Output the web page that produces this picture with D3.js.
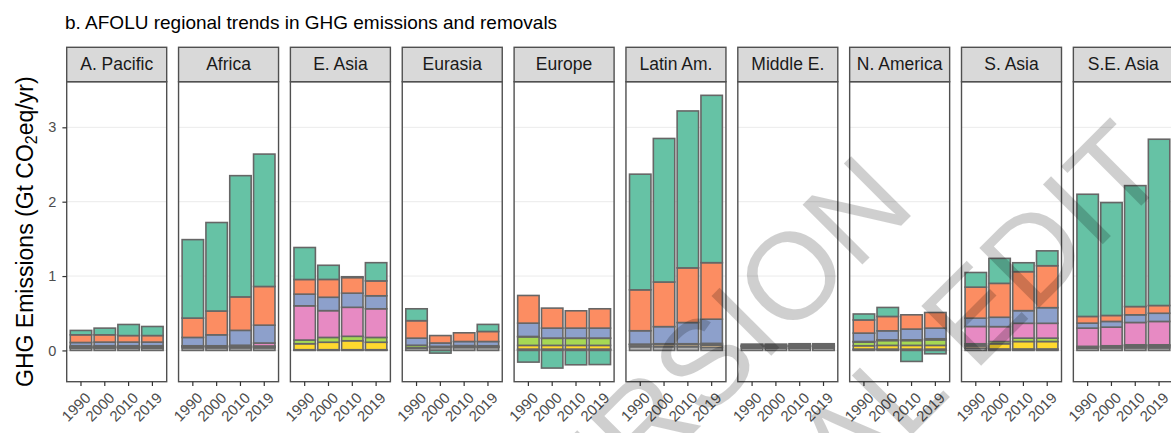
<!DOCTYPE html>
<html>
<head>
<meta charset="utf-8">
<script src="https://cdn.jsdelivr.net/npm/d3@7"></script>
<style>
  body { margin: 0; background: #fff; }
  svg { display: block; }
  text { font-family: "Liberation Sans", Arial, Helvetica, sans-serif; }
</style>
</head>
<body>
<svg id="chart" width="1171" height="433"></svg>
<script>
// Regions (facets) and years (bars within each facet)
const regions = ["A. Pacific", "Africa", "E. Asia", "Eurasia", "Europe",
                 "Latin Am.", "Middle E.", "N. America", "S. Asia", "S.E. Asia"];
const years = ["1990", "2000", "2010", "2019"];
const yTickValues = [0, 1, 2, 3];

// Emissions by source, Gt CO2eq/yr; one row per region, one value per year
const other = [
  [0.03, 0.03, 0.03, 0.03], [0.035, 0.035, 0.035, 0.035], [0.005, 0.005, 0.005, 0.005],
  [0.03, 0.04, 0.04, 0.04], [0.01, 0.01, 0.01, 0.01], [0.05, 0.05, 0.05, 0.04],
  [0.03, 0.03, 0.03, 0.03], [0.01, 0.01, 0.01, 0.01], [0.03, 0.01, 0.01, 0.01],
  [0.03, 0.035, 0.035, 0.035]];
const burning = [
  [0.01, 0.01, 0.01, 0.01], [0.015, 0.015, 0.01, 0.01], [0.005, 0.005, 0.005, 0.005],
  [0.005, 0.005, 0.01, 0.005], [0.008, 0.008, 0.008, 0.008], [0.025, 0.03, 0.03, 0.03],
  [0.02, 0.02, 0.02, 0.02], [0.008, 0.008, 0.008, 0.008], [0.03, 0.01, 0.01, 0.01],
  [0.015, 0.015, 0.02, 0.02]];
const manure = [
  [0.005, 0.005, 0.005, 0.005], [0.005, 0.005, 0.005, 0.008], [0.08, 0.10, 0.12, 0.10],
  [0.005, 0.005, 0.005, 0.005], [0.05, 0.05, 0.05, 0.05], [0.005, 0.005, 0.005, 0.01],
  [0.005, 0.005, 0.005, 0.005], [0.045, 0.05, 0.05, 0.05], [0.01, 0.07, 0.10, 0.10],
  [0.005, 0.008, 0.01, 0.01]];
const fertiliser = [
  [0.003, 0.003, 0.003, 0.003], [0.003, 0.003, 0.005, 0.007], [0.05, 0.065, 0.06, 0.065],
  [0.03, 0.005, 0.01, 0.013], [0.115, 0.095, 0.095, 0.095], [0.005, 0.005, 0.005, 0.015],
  [0.005, 0.005, 0.005, 0.005], [0.05, 0.065, 0.065, 0.075], [0.02, 0.03, 0.045, 0.045],
  [0.005, 0.005, 0.011, 0.011]];
const rice = [
  [0.015, 0.015, 0.015, 0.015], [0.005, 0.005, 0.015, 0.04], [0.46, 0.36, 0.39, 0.385],
  [0, 0, 0, 0], [0.005, 0.003, 0.003, 0.003], [0, 0, 0, 0],
  [0, 0, 0, 0], [0.007, 0.01, 0.01, 0.014], [0.232, 0.20, 0.20, 0.20],
  [0.245, 0.25, 0.30, 0.314]];
const soils = [
  [0.044, 0.049, 0.049, 0.049], [0.112, 0.147, 0.20, 0.24], [0.157, 0.18, 0.19, 0.175],
  [0.095, 0.045, 0.055, 0.057], [0.179, 0.134, 0.134, 0.134], [0.18, 0.23, 0.285, 0.325],
  [0.01, 0.01, 0.01, 0.01], [0.113, 0.121, 0.144, 0.143], [0.112, 0.126, 0.17, 0.21],
  [0.067, 0.077, 0.103, 0.11]];
const enteric = [
  [0.103, 0.098, 0.088, 0.088], [0.26, 0.32, 0.45, 0.52], [0.197, 0.24, 0.21, 0.20],
  [0.235, 0.10, 0.117, 0.135], [0.372, 0.269, 0.233, 0.26], [0.55, 0.60, 0.735, 0.76],
  [0.015, 0.015, 0.02, 0.02], [0.177, 0.193, 0.192, 0.21], [0.417, 0.456, 0.524, 0.564],
  [0.09, 0.08, 0.111, 0.104]];
const lulucf = [
  [0.059, 0.09, 0.149, 0.122], [1.055, 1.19, 1.63, 1.78], [0.43, 0.19, 0.01, 0.245],
  [0.16, -0.036, 0, 0.095], [-0.157, -0.237, -0.193, -0.19], [1.555, 1.93, 2.11, 2.25],
  [0, 0, 0, 0], [0.08, 0.121, -0.148, -0.045], [0.197, 0.336, 0.12, 0.20],
  [1.643, 1.518, 1.626, 2.236]];

// Stacking order, bottom to top
const sources = { other, burning, manure, fertiliser, rice, soils, enteric, lulucf };
const keys = Object.keys(sources);
const color = d3.scaleOrdinal()
  .domain(keys)
  .range(["#b3b3b3", "#e5c494", "#ffd92f", "#a6d854", "#e78ac3", "#8da0cb", "#fc8d62", "#66c2a5"]);

// Flatten into one row per region-year for d3.stack
const rows = [];
regions.forEach((region, ri) => {
  years.forEach((year, yi) => {
    const row = { region, year };
    keys.forEach(k => { row[k] = sources[k][ri][yi]; });
    rows.push(row);
  });
});
const stacked = d3.stack().keys(keys).offset(d3.stackOffsetDiverging)(rows);

// Layout
const svg = d3.select("#chart");
const stripTop = 47.3, panelTop = 81.7, panelBottom = 381.7;

const fx = d3.scaleBand().domain(regions).range([66.7, 1173.35]).paddingInner(0.106).paddingOuter(0);
const pw = fx.bandwidth();
const x = d3.scaleBand().domain(years).range([0, pw]).paddingInner(0.1).paddingOuter(0.15);

const lo = d3.min(stacked, s => d3.min(s, d => d[0]));
const hi = d3.max(stacked, s => d3.max(s, d => d[1]));
const pad = (hi - lo) * 0.05;
const y = d3.scaleLinear().domain([lo - pad, hi + pad]).range([panelBottom, panelTop]);

// Title
svg.append("text")
  .attr("x", 65).attr("y", 29)
  .attr("font-size", 19).attr("fill", "#000")
  .text("b. AFOLU regional trends in GHG emissions and removals");

// Facet panels
const panels = svg.selectAll("g.panel")
  .data(regions)
  .join("g")
  .attr("class", "panel")
  .attr("transform", d => `translate(${fx(d)},0)`);

panels.append("rect")
  .attr("x", 0).attr("y", panelTop)
  .attr("width", pw).attr("height", panelBottom - panelTop)
  .attr("fill", "#fff");

panels.selectAll("line.grid")
  .data(yTickValues)
  .join("line")
  .attr("class", "grid")
  .attr("x1", 0).attr("x2", pw)
  .attr("y1", d => y(d)).attr("y2", d => y(d))
  .attr("stroke", "#ebebeb").attr("stroke-width", 1);

// Stacked bars, one layer per source
panels.each(function(region) {
  const g = d3.select(this);
  stacked.forEach(layer => {
    const segs = layer.filter(d => d.data.region === region && d[1] !== d[0]);
    g.selectAll(null)
      .data(segs)
      .join("rect")
      .attr("x", d => x(d.data.year))
      .attr("width", x.bandwidth())
      .attr("y", d => y(Math.max(d[0], d[1])))
      .attr("height", d => Math.abs(y(d[0]) - y(d[1])))
      .attr("fill", color(layer.key))
      .attr("stroke", "#666")
      .attr("stroke-width", 1.6);
  });
});

panels.append("rect")
  .attr("x", 0).attr("y", panelTop)
  .attr("width", pw).attr("height", panelBottom - panelTop)
  .attr("fill", "none").attr("stroke", "#505050").attr("stroke-width", 1.4);

// Facet strips
panels.append("rect")
  .attr("x", 0).attr("y", stripTop)
  .attr("width", pw).attr("height", panelTop - stripTop)
  .attr("fill", "#d9d9d9").attr("stroke", "#505050").attr("stroke-width", 1.4);

panels.append("text")
  .attr("x", pw / 2).attr("y", 69.5)
  .attr("text-anchor", "middle")
  .attr("font-size", 17.5).attr("fill", "#1a1a1a")
  .text(d => d);

// x axes
panels.each(function() {
  const ax = d3.select(this).append("g")
    .attr("transform", `translate(0,${panelBottom})`)
    .call(d3.axisBottom(x).tickSize(4.3).tickPadding(0));
  ax.select(".domain").remove();
  ax.selectAll(".tick line").attr("stroke", "#333").attr("stroke-width", 1.2);
  ax.selectAll(".tick text")
    .attr("font-size", 15).attr("fill", "#4d4d4d")
    .attr("text-anchor", "end")
    .attr("y", 0)
    .attr("transform", "translate(3,9.5) rotate(-45)")
    .attr("dy", "0.72em");
});

// y axis
const yAxis = svg.append("g")
  .attr("transform", `translate(${fx(regions[0])},0)`)
  .call(d3.axisLeft(y).tickValues(yTickValues).tickSize(4.3).tickPadding(6).tickFormat(d3.format("d")));
yAxis.select(".domain").remove();
yAxis.selectAll(".tick line").attr("stroke", "#333").attr("stroke-width", 1.2);
yAxis.selectAll(".tick text").attr("font-size", 14.5).attr("fill", "#4d4d4d");

// y axis title with subscript
const yt = svg.append("text")
  .attr("transform", `translate(32.5,${(panelTop + panelBottom) / 2}) rotate(-90)`)
  .attr("text-anchor", "middle")
  .attr("font-size", 23).attr("fill", "#000");
yt.append("tspan").text("GHG Emissions (Gt CO");
yt.append("tspan").attr("font-size", 16).attr("dy", 4).text("2");
yt.append("tspan").attr("dy", -4).text("eq/yr)");

// Draft watermark across the figure
const wm = svg.append("g")
  .attr("fill", "#000").attr("fill-opacity", 0.19)
  .attr("font-size", 123)
  .style("pointer-events", "none");
wm.append("text")
  .attr("text-anchor", "end")
  .attr("transform", "translate(918,209) rotate(-45)")
  .text("ACCEPTED VERSION");
wm.append("text")
  .attr("text-anchor", "end")
  .attr("transform", "translate(1172,175) rotate(-45)")
  .text("SUBJECT TO FINAL EDIT");
</script>
</body>
</html>
